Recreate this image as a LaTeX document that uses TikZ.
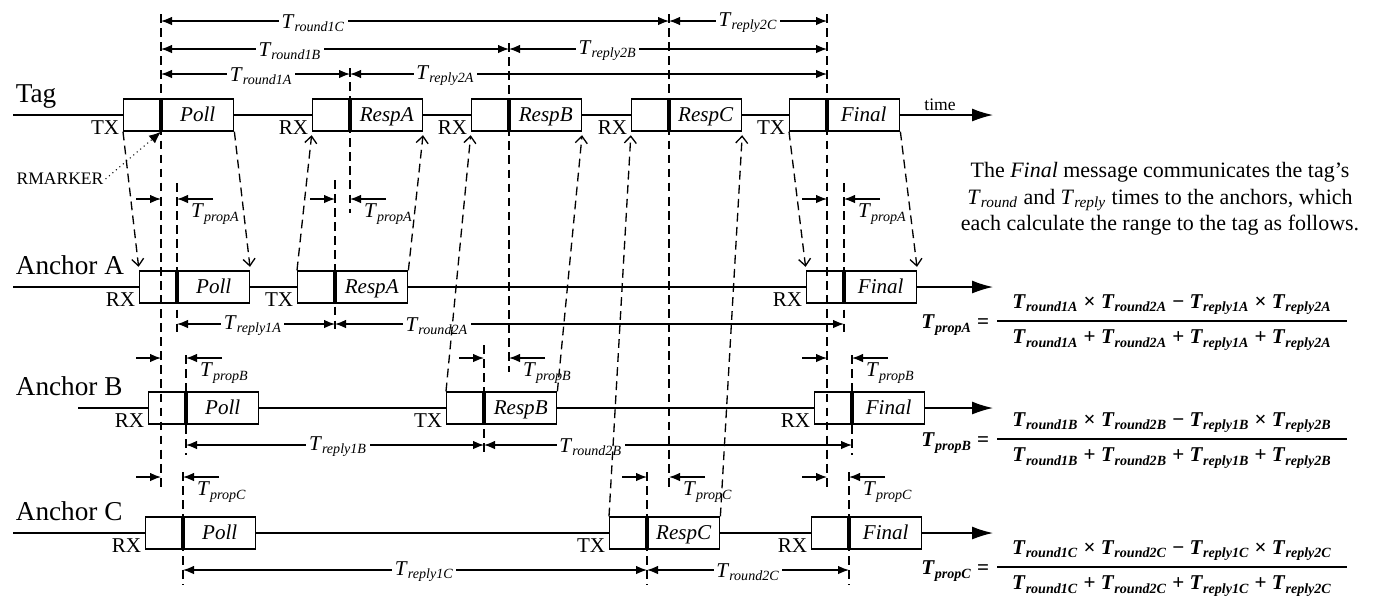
\documentclass[tikz,border=0pt]{standalone}
\usepackage{fontspec}
\setmainfont{Liberation Serif}
\usetikzlibrary{positioning, calc, arrows.meta}

\newcommand{\Tl}[1]{\textit{T}\textsubscript{\textit{#1}}}
\newcommand{\Tb}[1]{\textbf{\textit{T}\textsubscript{\textit{#1}}}}

\begin{document}
\begin{tikzpicture}[x=0.02cm, y=-0.02cm,
		msg/.style={draw, line width=0.8pt, fill=white, minimum width=2.2cm, minimum height=0.64cm, inner sep=0pt},
		msgtext/.style={font=\fontsize{12}{14}\selectfont\itshape, inner sep=0pt, text height=8.2pt, text depth=1.2pt},
		side/.style={font=\fontsize{12}{14}\selectfont, inner sep=2pt},
		row/.style={font=\fontsize{15.5}{18}\selectfont, inner sep=2pt},
		timeline/.style={line width=0.8pt, -{Latex[length=4.2mm, width=2.6mm]}},
		marker/.style={line width=2.2pt},
		vline/.style={dash pattern=on 5pt off 3pt, line width=0.75pt},
		signal/.style={vline, -{Straight Barb[length=1.4mm, width=2.4mm]}, shorten >=2pt},
		dim/.style={line width=0.7pt, {Latex[length=2.2mm, width=1.7mm]}-{Latex[length=2.2mm, width=1.7mm]}},
		prop/.style={line width=0.7pt, -{Latex[length=2.2mm, width=1.7mm]}},
		dimlabel/.style={fill=white, inner sep=1.5pt, yshift=-1pt, font=\fontsize{12}{14}\selectfont},
		formula/.style={font=\fontsize{12}{14}\selectfont\bfseries, inner sep=2pt}
		]
		\useasboundingbox (0,0) rectangle (1378,610);
		
		% time lines of tag and anchors
		\foreach \n/\lab/\y/\xs in {tag/Tag/115/13, anca/Anchor A/287/13, ancb/Anchor B/408/78, ancc/Anchor C/533/13}{
			\coordinate (\n0) at (\xs,\y);
			\coordinate (\n1) at (993,\y);
			\draw[timeline] (\n0) -- (\n1);
			\node[row, anchor=base west] (l\n) at (12,\y-13) {\lab};
		}
		\node[font=\fontsize{10}{12}\selectfont] (time) at (940,105) {time};
		
		% messages
		\foreach \n/\x/\y/\lab/\io in {tpoll/123/115/Poll/TX, tra/312/115/RespA/RX, trb/471/115/RespB/RX, trc/631/115/RespC/RX, tfin/789/115/Final/TX,
			apoll/139/287/Poll/RX, ara/297/287/RespA/TX, afin/806/287/Final/RX,
			bpoll/148/408/Poll/RX, brb/446/408/RespB/TX, bfin/814/408/Final/RX,
			cpoll/145/533/Poll/RX, crc/609/533/RespC/TX, cfin/811/533/Final/RX}{
			\node[msg, anchor=west] (\n) at (\x,\y) {};
			\coordinate (R\n) at ($(\n.west)+(38,0)$);
			\draw[marker] (R\n|-\n.north) -- (R\n|-\n.south);
			\node[msgtext] at ($(R\n)!.5!(\n.east)$) {\lab};
			\node[side, anchor=east] at ($(\n.south west)+(0,-4)$) {\io};
		}
		
		% round and reply times
		\foreach \a/\b/\y/\p/\lab in {Rtpoll/Rtrc/21/.3/round1C, Rtrc/Rtfin/21/.5/reply2C, Rtpoll/Rtrb/49/.37/round1B, Rtrb/Rtfin/49/.31/reply2B,
			Rtpoll/Rtra/74/.53/round1A, Rtra/Rtfin/74/.2/reply2A, Rapoll/Rara/324/.48/reply1A, Rara/Rafin/324/.2/round2A,
			Rbpoll/Rbrb/445/.51/reply1B, Rbrb/Rbfin/445/.29/round2B, Rcpoll/Rcrc/570/.52/reply1C, Rcrc/Rcfin/570/.5/round2C}{
			\draw[dim] (\a|-0,\y) -- node[dimlabel, pos=\p] {\Tl{\lab}} (\b|-0,\y);
		}
		
		% RMARKER lines
		\foreach \c/\ya/\yb in {Rtpoll/14/487, Rtra/68/213, Rtrb/43/372, Rtrc/14/487, Rtfin/14/487,
			Rapoll/183/333, Rara/180/333, Rafin/183/333, Rbpoll/355/455, Rbrb/345/455, Rbfin/355/455,
			Rcpoll/472/585, Rcrc/472/585, Rcfin/472/585}{
			\draw[vline] (\c|-0,\ya) -- (\c|-0,\yb);
		}
		
		% signals
		\foreach \s/\e in {tpoll/apoll, tfin/afin}{
			\draw[signal] (\s.south west) -- (\e.north west);
			\draw[signal] (\s.south east) -- (\e.north east);
		}
		\foreach \s/\e in {ara/tra, brb/trb, crc/trc}{
			\draw[signal] (\s.north west) -- (\e.south west);
			\draw[signal] (\s.north east) -- (\e.south east);
		}
		
		% propagation times
		\foreach \L/\R/\y/\k in {Rtpoll/Rapoll/199/A, Rara/Rtra/199/A, Rtfin/Rafin/199/A,
			Rtpoll/Rbpoll/358/B, Rbrb/Rtrb/358/B, Rtfin/Rbfin/358/B,
			Rtpoll/Rcpoll/477/C, Rcrc/Rtrc/477/C, Rtfin/Rcfin/477/C}{
			\draw[prop] ($(\L|-0,\y)+(-25,0)$) -- (\L|-0,\y);
			\draw[prop] ($(\R|-0,\y)+(36,0)$) -- (\R|-0,\y);
			\node[anchor=north west, inner sep=1pt, font=\fontsize{12}{14}\selectfont] at ($(\R|-0,\y)+(12,3)$) {\Tl{prop\k}};
		}
		
		\node[font=\fontsize{10}{12}\selectfont, inner sep=1pt] (rmarker) at (60,179) {RMARKER};
		\draw[dotted, line width=0.6pt, -{Latex[length=2.4mm, width=2mm]}] (rmarker.east) -- (Rtpoll|-tpoll.south);
		
		\node[font=\fontsize{12.5}{15}\selectfont, align=center] (note) at (1160,199) {The \textit{Final} message communicates the tag’s\\ \Tl{round} and \Tl{reply} times to the anchors, which\\ each calculate the range to the tag as follows.};
		
		% range formulas
		\foreach \k/\y in {A/321, B/439, C/567}{
			\coordinate (f\k) at (1172,\y);
			\node[formula, above=1.5pt of f\k] (num\k) {\Tb{round1\k} × \Tb{round2\k} − \Tb{reply1\k} × \Tb{reply2\k}};
			\node[formula, below=3pt of f\k] (den\k) {\Tb{round1\k} + \Tb{round2\k} + \Tb{reply1\k} + \Tb{reply2\k}};
			\draw[line width=1pt] ($(f\k)+(-175,0)$) -- ($(f\k)+(175,0)$);
			\node[formula, anchor=east] (prop\k) at (993,\y+4) {\Tb{prop\k} =};
		}
	\end{tikzpicture}
\end{document}
